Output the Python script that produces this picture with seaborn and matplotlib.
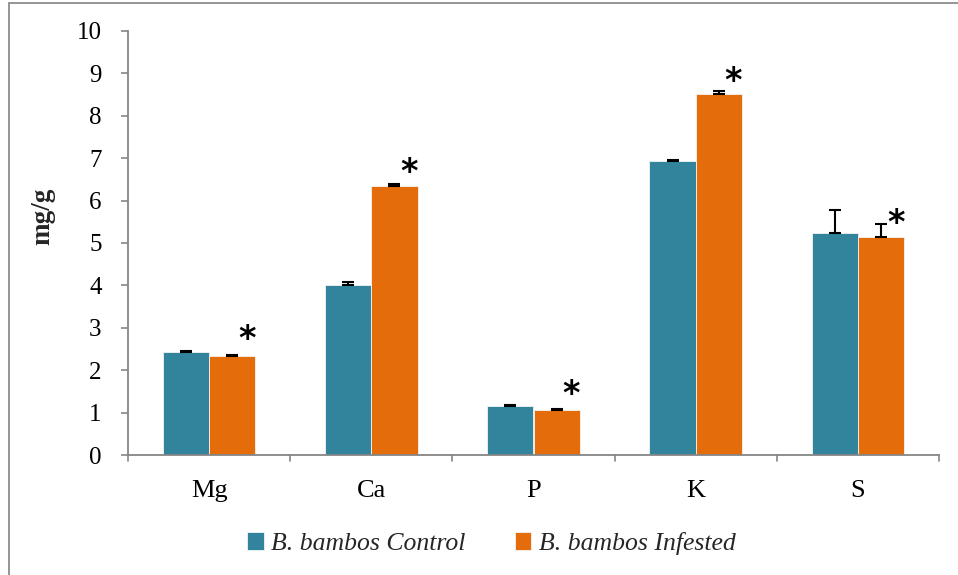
import matplotlib
matplotlib.use("Agg")
import matplotlib.pyplot as plt
import seaborn as sns
import pandas as pd
import numpy as np
from matplotlib.patches import Rectangle

categories = ["Mg", "Ca", "P", "K", "S"]
series = ["B. bambos Control", "B. bambos Infested"]
control = [2.43, 4.02, 1.16, 6.93, 5.24]
infested = [2.33, 6.34, 1.06, 8.52, 5.14]
control_err = [0.02, 0.06, 0.02, 0.03, 0.54]
infested_err = [0.04, 0.05, 0.02, 0.06, 0.30]
star_y = [2.72, 6.66, 1.42, 8.82, 5.47]
y_ticks = [0, 1, 2, 3, 4, 5, 6, 7, 8, 9, 10]

colors = ["#31849B", "#E46C0A"]

df = pd.DataFrame({
    "cat": categories * 2,
    "series": [series[0]] * 5 + [series[1]] * 5,
    "val": control + infested,
})

sns.set_theme(style="white")
plt.rcParams["font.family"] = ["Liberation Serif", "DejaVu Serif"]

fig = plt.figure(figsize=(9.58, 5.75), dpi=100)
ax = fig.add_axes([128 / 958, 1 - 455 / 575, (939 - 128) / 958, (455 - 31) / 575])

sns.barplot(data=df, x="cat", y="val", hue="series", order=categories,
            hue_order=series, palette=colors, width=0.57, ax=ax,
            errorbar=None, saturation=1, edgecolor="#f4f4f4", linewidth=0.6)

errs = [control_err, infested_err]
vals = [control, infested]
bar_containers = list(ax.containers)
for ci, cont in enumerate(bar_containers):
    xs = [p.get_x() + p.get_width() / 2 for p in cont.patches]
    ax.errorbar(xs, vals[ci], yerr=[np.zeros(5), errs[ci]], fmt="none",
                ecolor="black", elinewidth=1.5, capsize=4.5, capthick=1.5, zorder=5)
    if ci == 1:
        for x, y in zip(xs, star_y):
            ax.text(x + 0.09, y, "*", ha="center", va="center", fontsize=24,
                    fontweight="bold", color="black", family="DejaVu Sans", zorder=6)

ax.set_ylim(0, 10)
ax.set_xlim(-0.5, 4.5)
ax.set_yticks(y_ticks)
ax.set_yticklabels([str(t) for t in y_ticks], fontsize=18)
ax.set_xticks(range(5))
ax.set_xticklabels(categories, fontsize=19)
ax.set_xlabel("")
ax.set_ylabel("mg/g", fontsize=19.5, fontweight="bold")
ax.yaxis.set_label_coords(-0.09, 0.564)

for s in ["top", "right"]:
    ax.spines[s].set_visible(False)
for s in ["left", "bottom"]:
    ax.spines[s].set_color("#868686")
    ax.spines[s].set_linewidth(1.3)

ax.tick_params(axis="y", left=True, length=5, width=1.2, color="#868686", pad=14, labelcolor="black")
ax.tick_params(axis="x", bottom=False, pad=12, labelcolor="black")
# category boundary ticks
for b in np.arange(-0.5, 5.0, 1.0):
    ax.plot([b, b], [0, -0.13], color="#868686", lw=1.2, clip_on=False, zorder=4)

leg = ax.legend(loc="upper center", bbox_to_anchor=(0.448, -0.127), ncol=2, frameon=False,
                prop={"family": "Liberation Serif", "style": "italic", "size": 18.5},
                handlelength=0.65, handleheight=0.65, handletextpad=0.3, columnspacing=1.9)

fig.patches.append(Rectangle((8.5 / 958, -0.05), 1.1, 1.05 - 3 / 575, transform=fig.transFigure,
                             fill=False, edgecolor="#8c8c8c", linewidth=1.3))

fig.savefig("out.png", dpi=100)
